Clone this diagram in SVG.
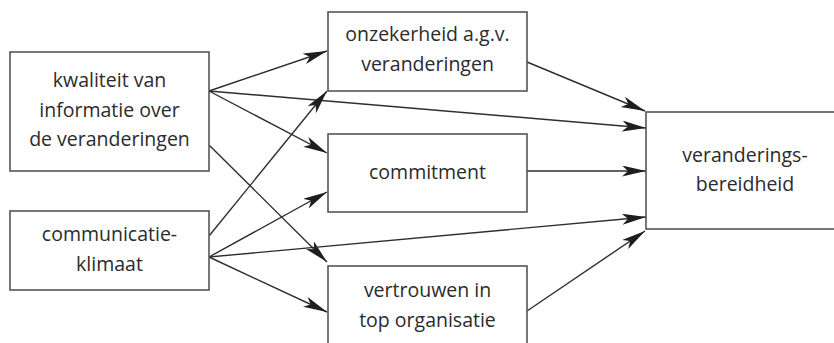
<svg xmlns="http://www.w3.org/2000/svg" width="834" height="343" viewBox="0 0 834 343">
<style>
.box{fill:#fff;stroke:#555;stroke-width:1.6}
.t{font-family:"Open Sans","Noto Sans",sans-serif;font-size:19.5px;fill:#2b2b2b;text-anchor:middle}
.c{stroke:#2e2e2e;stroke-width:1.4;fill:none;marker-end:url(#ah)}
</style>
<defs>
<marker id="ah" markerUnits="userSpaceOnUse" markerWidth="26" markerHeight="12" refX="24" refY="5.5" orient="auto">
<path d="M0,0 L24,5.5 L0,11 L6,5.5 Z" fill="#1e1e1e"/>
</marker>
</defs>
<rect width="834" height="343" fill="#fff"/>
<g id="connectors">
<line class="c" x1="209" y1="91" x2="327" y2="51"/>
<line class="c" x1="209" y1="91" x2="327" y2="153"/>
<line class="c" x1="209" y1="91" x2="646" y2="128"/>
<line class="c" x1="209" y1="145" x2="327" y2="262"/>
<line class="c" x1="209" y1="236" x2="327" y2="91"/>
<line class="c" x1="209" y1="257" x2="327" y2="192"/>
<line class="c" x1="209" y1="257" x2="646" y2="217"/>
<line class="c" x1="209" y1="257" x2="327" y2="312"/>
<line class="c" x1="527" y1="62" x2="645" y2="111"/>
<line class="c" x1="527" y1="171" x2="646" y2="171"/>
<line class="c" x1="527" y1="311" x2="645" y2="231"/>
</g>
<g id="kwaliteit">
<rect class="box" x="10" y="52" width="199" height="119"/>
<text class="t" x="109.5" y="87">kwaliteit van</text>
<text class="t" x="109.5" y="116.5">informatie over</text>
<text class="t" x="109.5" y="146">de veranderingen</text>
</g>
<g id="communicatieklimaat">
<rect class="box" x="10" y="211" width="199" height="79"/>
<text class="t" x="109.5" y="241">communicatie-</text>
<text class="t" x="109.5" y="271">klimaat</text>
</g>
<g id="onzekerheid">
<rect class="box" x="328" y="12" width="199" height="79"/>
<text class="t" x="427.5" y="41">onzekerheid a.g.v.</text>
<text class="t" x="427.5" y="71">veranderingen</text>
</g>
<g id="commitment">
<rect class="box" x="328" y="134" width="199" height="78"/>
<text class="t" x="427.5" y="179">commitment</text>
</g>
<g id="vertrouwen">
<rect class="box" x="328" y="266" width="199" height="90"/>
<text class="t" x="427.5" y="296.5">vertrouwen in</text>
<text class="t" x="427.5" y="326.5">top organisatie</text>
</g>
<g id="veranderingsbereidheid">
<rect class="box" x="646" y="112" width="200" height="117"/>
<text class="t" x="745" y="161.5">veranderings-</text>
<text class="t" x="745" y="191">bereidheid</text>
</g>
</svg>
